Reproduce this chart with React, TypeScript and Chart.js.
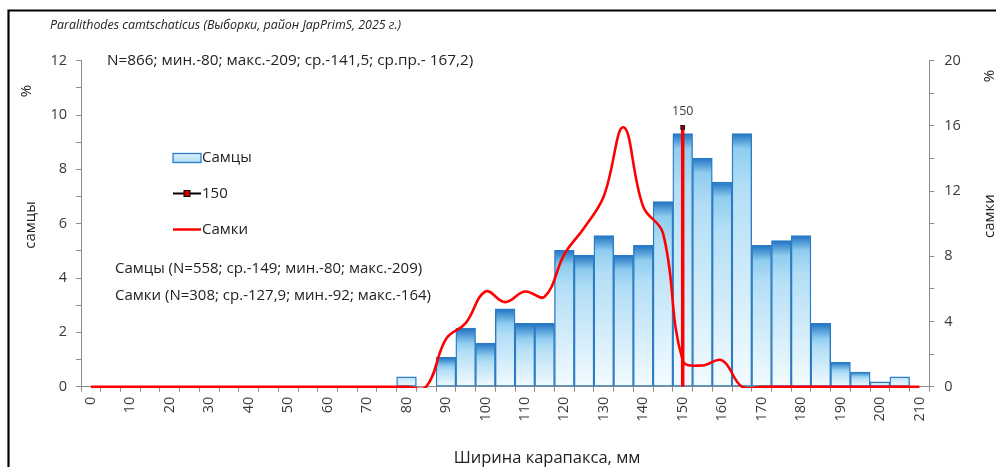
import React, { useEffect, useRef } from 'react';
import { Chart, registerables } from 'chart.js';

Chart.register(...registerables);

// ---- data ----
const categories = [
  '0', '5', '10', '15', '20', '25', '30', '35', '40', '45', '50', '55', '60', '65', '70', '75',
  '80', '85', '90', '95', '100', '105', '110', '115', '120', '125', '130', '135', '140', '145',
  '150', '155', '160', '165', '170', '175', '180', '185', '190', '195', '200', '205', '210',
];
// tick labels shown under every second category
const xTickLabels = [
  '0', '', '10', '', '20', '', '30', '', '40', '', '50', '', '60', '', '70', '',
  '80', '', '90', '', '100', '', '110', '', '120', '', '130', '', '140', '',
  '150', '', '160', '', '170', '', '180', '', '190', '', '200', '', '210',
];
// males, % (left axis)
const malesPct = [
  0, 0, 0, 0, 0, 0, 0, 0, 0, 0, 0, 0, 0, 0, 0, 0,
  0.36, 0, 1.08, 2.15, 1.61, 2.87, 2.33, 2.33, 5.02, 4.84, 5.56, 4.84, 5.2, 6.81,
  9.32, 8.42, 7.53, 9.32, 5.2, 5.38, 5.56, 2.33, 0.9, 0.54, 0.18, 0.36, 0,
];
// females, % (right axis)
const femalesPct = [
  0, 0, 0, 0, 0, 0, 0, 0, 0, 0, 0, 0, 0, 0, 0, 0,
  0, 0, 2.92, 3.9, 5.84, 5.19, 5.84, 5.52, 8.12, 9.74, 11.69, 15.91, 11.04, 9.42,
  1.62, 1.3, 1.62, 0, 0, 0, 0, 0, 0, 0, 0, 0, 0,
];
// vertical reference line at 150 mm
const refX = '150';
const refValues = [0, 9.55];

const leftMax = 12;
const leftLabelStep = 2;
const rightMax = 20;
const rightLabelStep = 4;

const titleText = 'Paralithodes camtschaticus (Выборки, район JapPrimS, 2025 г.)';
const summaryText = 'N=866; мин.-80; макс.-209; ср.-141,5; ср.пр.- 167,2)';
const malesStats = 'Самцы (N=558; ср.-149; мин.-80; макс.-209)';
const femalesStats = 'Самки (N=308; ср.-127,9; мин.-92; макс.-164)';
const xTitle = 'Ширина карапакса, мм';
const leftTitle = 'самцы';
const rightTitle = 'самки';
const unitTitle = '%';

const FONT = '"Open Sans", sans-serif';
const TEXT = '#222222';
const TICK = '#3a3a3a';
const AXIS = '#8c8c8c';

const W = 996;
const H = 467;

const overlayPlugin = {
  id: 'overlay',
  afterDraw(chart: any) {
    const ctx: CanvasRenderingContext2D = chart.ctx;
    ctx.save();
    // outer frame (left + top edges visible)
    ctx.strokeStyle = '#000';
    ctx.lineWidth = 2.2;
    ctx.beginPath();
    ctx.moveTo(8.5, H + 2);
    ctx.lineTo(8.5, 10.5);
    ctx.lineTo(W + 2, 10.5);
    ctx.stroke();

    ctx.fillStyle = TEXT;
    ctx.textBaseline = 'middle';
    ctx.textAlign = 'left';
    ctx.font = `italic 12.4px ${FONT}`;
    ctx.fillText(titleText, 50, 25);

    ctx.font = `15.3px ${FONT}`;
    ctx.fillText(summaryText, 107, 61);
    ctx.font = `15px ${FONT}`;
    ctx.fillText(malesStats, 115, 269);
    ctx.fillText(femalesStats, 115, 296);

    // axis titles
    ctx.font = `15px ${FONT}`;
    const rot = (t: string, x: number, y: number) => {
      ctx.save();
      ctx.translate(x, y);
      ctx.rotate(-Math.PI / 2);
      ctx.textAlign = 'center';
      ctx.fillText(t, 0, 0);
      ctx.restore();
    };
    rot(unitTitle, 27, 91);
    rot(leftTitle, 31, 225);
    rot(unitTitle, 990, 76);
    rot(rightTitle, 990, 216);
    ctx.font = `16.5px ${FONT}`;
    ctx.textAlign = 'center';
    ctx.fillText(xTitle, 547, 458);

    // label above the reference marker
    const refMeta = chart.getDatasetMeta(0);
    const top = refMeta.data[1];
    if (top) {
      ctx.font = `12.5px ${FONT}`;
      ctx.fillStyle = '#404040';
      ctx.fillText(chart.data.datasets[0].label, top.x, top.y - 16);
    }

    // legend
    const lx = 173;
    const lw = 28;
    ctx.font = `15px ${FONT}`;
    ctx.textAlign = 'left';
    ctx.fillStyle = TEXT;
    // males
    let y = 158;
    const g = ctx.createLinearGradient(0, y - 4.5, 0, y + 4.5);
    g.addColorStop(0, '#dff1fc');
    g.addColorStop(1, '#a9dbf6');
    ctx.fillStyle = g;
    ctx.fillRect(lx, y - 4.5, lw, 9);
    ctx.strokeStyle = '#2b7cc4';
    ctx.lineWidth = 1.3;
    ctx.strokeRect(lx, y - 4.5, lw, 9);
    ctx.fillStyle = TEXT;
    ctx.fillText(chart.data.datasets[2].label, lx + lw + 1, y);
    // ref line
    y = 193.5;
    ctx.strokeStyle = '#000';
    ctx.lineWidth = 2;
    ctx.beginPath();
    ctx.moveTo(lx, y);
    ctx.lineTo(lx + lw, y);
    ctx.stroke();
    ctx.fillStyle = '#d00000';
    ctx.fillRect(lx + lw / 2 - 3, y - 3, 6, 6);
    ctx.lineWidth = 1;
    ctx.strokeRect(lx + lw / 2 - 3, y - 3, 6, 6);
    ctx.fillStyle = TEXT;
    ctx.fillText(chart.data.datasets[0].label, lx + lw + 1, y);
    // females
    y = 229.5;
    ctx.strokeStyle = '#ff0000';
    ctx.lineWidth = 2.5;
    ctx.beginPath();
    ctx.moveTo(lx, y);
    ctx.lineTo(lx + lw, y);
    ctx.stroke();
    ctx.fillText(chart.data.datasets[1].label, lx + lw + 1, y);
    ctx.restore();
  },
};

function barGradient(c: any) {
  const chart = c.chart;
  if (c.type !== 'data' || !chart.scales || !chart.scales.y) return '#a9dbf6';
  const v = c.raw as number;
  const ys = chart.scales.y;
  const top = ys.getPixelForValue(v);
  const base = ys.getPixelForValue(0);
  const h = base - top;
  if (!(h > 0)) return 'rgba(0,0,0,0)';
  const g = chart.ctx.createLinearGradient(0, top, 0, base);
  if (h < 12) {
    g.addColorStop(0, '#bfe4f8');
    g.addColorStop(1, '#eef8fe');
    return g;
  }
  const f = Math.min(0.3, 15 / h);
  g.addColorStop(0, '#1f72c2');
  g.addColorStop(f, '#8fcdef');
  g.addColorStop(Math.min(0.95, f + 0.15), '#b3def6');
  g.addColorStop(1, '#f3fbff');
  return g;
}

export default function App() {
  const ref = useRef<HTMLCanvasElement | null>(null);

  useEffect(() => {
    if (!ref.current) return;
    const chart = new Chart(ref.current, {
      type: 'bar',
      data: {
        labels: categories,
        datasets: [
          {
            type: 'line',
            label: refX,
            data: refValues.map((v) => ({ x: refX, y: v })) as any,
            yAxisID: 'y',
            borderColor: '#ff0000',
            borderWidth: 3.5,
            tension: 0,
            pointRadius: [0, 2.5] as any,
            pointStyle: 'rect',
            pointBackgroundColor: '#b00000',
            pointBorderColor: '#1a1a1a',
            pointBorderWidth: 1.2,
            order: 0,
          } as any,
          {
            type: 'line',
            label: 'Самки',
            data: femalesPct,
            yAxisID: 'y1',
            borderColor: '#ff0000',
            borderWidth: 2.6,
            tension: 0.4,
            capBezierPoints: false,
            pointRadius: 0,
            clip: { left: 0, top: 0, right: 0, bottom: 1.3 } as any,
            order: 1,
          } as any,
          {
            type: 'bar',
            label: 'Самцы',
            data: malesPct,
            yAxisID: 'y',
            backgroundColor: barGradient as any,
            borderColor: '#2b7cc4',
            borderWidth: ((c: any) => (c.raw > 0 ? 1.4 : 0)) as any,
            borderSkipped: false,
            barPercentage: 1,
            categoryPercentage: 1,
            order: 2,
          } as any,
        ],
      },
      options: {
        responsive: false,
        animation: false,
        layout: { padding: { top: 60.7, left: 0, right: 0, bottom: 0 } },
        plugins: {
          legend: { display: false },
          tooltip: { enabled: false },
          title: { display: false },
        },
        elements: { line: { capBezierPoints: false } },
        scales: {
          x: {
            type: 'category',
            offset: true,
            grid: { offset: true, drawOnChartArea: false, tickLength: 5, color: AXIS },
            border: { color: AXIS, width: 1 },
            ticks: {
              autoSkip: false,
              minRotation: 90,
              maxRotation: 90,
              padding: 5,
              color: TICK,
              font: { family: FONT, size: 14.5 },
              callback: (_v: any, i: number) => xTickLabels[i],
            },
            afterFit: (s: any) => {
              s.height = H - 386.7;
            },
          },
          y: {
            type: 'linear',
            position: 'left',
            min: 0,
            max: leftMax,
            grid: { drawOnChartArea: false, tickLength: 5, color: AXIS },
            border: { color: AXIS, width: 1 },
            ticks: {
              stepSize: 1,
              padding: 9,
              color: TICK,
              font: { family: FONT, size: 14.5 },
              callback: (v: any) => (Number(v) % leftLabelStep === 0 ? String(v) : ''),
            },
            afterFit: (s: any) => {
              s.width = 81;
            },
          },
          y1: {
            type: 'linear',
            position: 'right',
            min: 0,
            max: rightMax,
            grid: { drawOnChartArea: false, tickLength: 5, color: AXIS },
            border: { color: AXIS, width: 1 },
            ticks: {
              stepSize: 1,
              padding: 10,
              color: TICK,
              font: { family: FONT, size: 14.5 },
              callback: (v: any) => (Number(v) % rightLabelStep === 0 ? String(v) : ''),
            },
            afterFit: (s: any) => {
              s.width = W - 929.3;
            },
          },
        },
      } as any,
      plugins: [overlayPlugin],
    });
    return () => chart.destroy();
  }, []);

  return (
    <div style={{ position: 'fixed', left: 0, top: 0, width: W, height: H, overflow: 'hidden', background: '#fff' }}>
      <canvas ref={ref} width={W} height={H} style={{ display: 'block' }} />
    </div>
  );
}
